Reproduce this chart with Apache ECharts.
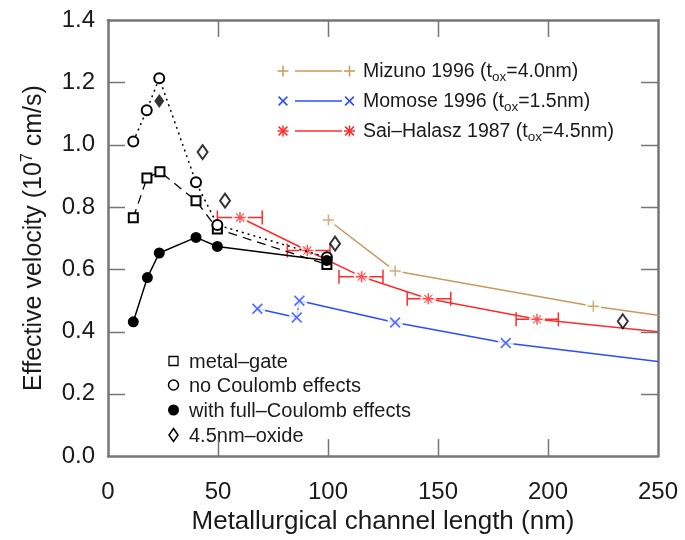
<!DOCTYPE html>
<html>
<head>
<meta charset="utf-8">
<script src="https://cdn.jsdelivr.net/npm/echarts@6/dist/echarts.min.js"></script>
<style>
  html, body { margin: 0; background: #fff; }
  #chart { width: 685px; height: 540px; }
</style>
</head>
<body>
<div id="chart"></div>
<script>
// axis ticks
const xTicks = [0, 50, 100, 150, 200, 250];
const yTicks = [0.0, 0.2, 0.4, 0.6, 0.8, 1.0, 1.2, 1.4];

// simulations (black)
const metalGate = [[11.5, 0.765], [17.7, 0.893], [23.6, 0.913], [40, 0.82], [49.7, 0.729], [99.5, 0.615]];
const noCoulomb = [[11.5, 1.01], [17.6, 1.11], [23.3, 1.213], [40, 0.879], [49.7, 0.742], [99.5, 0.638]];
const fullCoulomb = [[11.5, 0.431], [17.9, 0.573], [23.3, 0.652], [40, 0.702], [49.7, 0.673], [99.5, 0.628]];
const oxide = [[43, 0.976], [53.2, 0.82], [103.2, 0.682], [234, 0.433]];
const oxideFull = [[23.3, 1.14]];

// measurements (coloured); *Edge = where the line leaves the frame
const mizuno = [[100.2, 0.758], [130.5, 0.594], [220.6, 0.481]];
const mizunoEdge = [250, 0.452];
const momose = [[67.9, 0.473], [85.8, 0.445], [87, 0.499], [130.5, 0.429], [180.8, 0.363]];
const momoseEdge = [250, 0.304];
const sai = [[60, 0.766], [90.6, 0.66], [115.3, 0.576], [145.6, 0.505], [195, 0.439]];
const saiLow = [49.7, 81.5, 105, 136, 185.5];
const saiHigh = [70.1, 100.9, 125, 155.8, 204.7];
const saiEdge = [250, 0.399];

const TAN = '#c89a5e', BLUE = '#2b4cff', RED = '#ff2b2b', AXIS = '#767676', INK = '#1a1a1a';
const FONT = 'Liberation Sans';

const PLUS = 'M4.3,0H5.7V4.3H10V5.7H5.7V10H4.3V5.7H0V4.3H4.3Z';
const CROSS = 'M0.5,1.5L1.5,0.5L9.5,8.5L8.5,9.5Z M8.5,0.5L9.5,1.5L1.5,9.5L0.5,8.5Z';
const STAR = 'M4.3,0H5.7V10H4.3Z M0,4.3H10V5.7H0Z M1,1.7L1.7,1L9,8.3L8.3,9Z M8.3,1L9,1.7L1.7,9L1,8.3Z';

const chart = echarts.init(document.getElementById('chart'));

function measured(name, pts, edge, color, path, size) {
  return [
    { type: 'line', name: name, data: pts.concat([edge]), showSymbol: false, z: 2,
      lineStyle: { color: color, width: 1.5 } },
    { type: 'scatter', data: pts, symbol: 'circle', symbolSize: 16, z: 4, silent: true,
      itemStyle: { color: '#fff' } },
    { type: 'scatter', data: pts, symbol: 'path://' + path, symbolSize: size, z: 5,
      itemStyle: { color: color } }
  ];
}

// legend markers drawn from strokes
function legendMark(kind, cx, cy, r, color) {
  const st = { stroke: color, lineWidth: 1.5 };
  const d = r * 0.8;
  const plus = [[-r, 0, r, 0], [0, -r, 0, r]];
  const cross = [[-d, -d, d, d], [-d, d, d, -d]];
  const segs = kind === 'plus' ? plus : kind === 'cross' ? cross : plus.concat(cross);
  return { type: 'group', children: segs.map(function (s) {
    return { type: 'line', shape: { x1: cx + s[0], y1: cy + s[1], x2: cx + s[2], y2: cy + s[3] }, style: st };
  }) };
}

const topLegend = [
  { y: 71, color: TAN, kind: 'plus', label: ['Mizuno 1996 (t', 'ox', '=4.0nm)'] },
  { y: 101, color: BLUE, kind: 'cross', label: ['Momose 1996 (t', 'ox', '=1.5nm)'] },
  { y: 131, color: RED, kind: 'star', label: ['Sai\u2013Halasz 1987 (t', 'ox', '=4.5nm)'] }
];

const graphics = [];
topLegend.forEach(function (e) {
  graphics.push({ type: 'line', shape: { x1: 295, y1: e.y, x2: 342, y2: e.y }, style: { stroke: e.color, lineWidth: 1.5 } });
  graphics.push(legendMark(e.kind, 283, e.y, 5.5, e.color));
  graphics.push(legendMark(e.kind, 349.5, e.y, 5.5, e.color));
  graphics.push({ type: 'text', x: 363, y: e.y + 1, style: {
    text: '{a|' + e.label[0] + '}{s|' + e.label[1] + '}{a|' + e.label[2] + '}',
    verticalAlign: 'middle', font: '19.5px ' + FONT, fill: INK,
    rich: { a: { fontSize: 19.5, fontFamily: FONT, fill: INK }, s: { fontSize: 13.5, fontFamily: FONT, fill: INK, padding: [10, 0, 0, 0] } }
  } });
});

const bottomLegend = [
  { y: 361, label: 'metal\u2013gate' },
  { y: 385, label: 'no Coulomb effects' },
  { y: 410, label: 'with full\u2013Coulomb effects' },
  { y: 435, label: '4.5nm\u2013oxide' }
];
graphics.push({ type: 'rect', shape: { x: 169, y: 356.5, width: 9, height: 9 }, style: { fill: '#fff', stroke: '#000', lineWidth: 1.3 } });
graphics.push({ type: 'circle', shape: { cx: 173.5, cy: 385, r: 5 }, style: { fill: '#fff', stroke: '#000', lineWidth: 1.5 } });
graphics.push({ type: 'circle', shape: { cx: 173.5, cy: 410, r: 5.5 }, style: { fill: '#000' } });
graphics.push({ type: 'polygon', shape: { points: [[173.5, 428.5], [178, 435], [173.5, 441.5], [169, 435]] }, style: { fill: '#fff', stroke: '#000', lineWidth: 1.5 } });
bottomLegend.forEach(function (e) {
  graphics.push({ type: 'text', x: 189, y: e.y + 1, style: { text: e.label, verticalAlign: 'middle', font: '20px ' + FONT, fill: INK } });
});

function axisStyle() {
  return {
    type: 'value',
    axisLine: { show: true, onZero: false, lineStyle: { color: AXIS, width: 2.5 } },
    axisTick: { show: false },
    splitLine: { show: false }
  };
}

chart.setOption({
  animation: false,
  backgroundColor: '#fff',
  textStyle: { fontFamily: FONT },
  grid: { left: 108, right: 27, top: 20, bottom: 77 },
  xAxis: [
    Object.assign(axisStyle(), {
      position: 'bottom', min: xTicks[0], max: xTicks[xTicks.length - 1], interval: xTicks[1] - xTicks[0],
      axisLabel: { fontSize: 24, color: INK, margin: 24, fontFamily: FONT },
      name: 'Metallurgical channel length (nm)', nameLocation: 'middle', nameGap: 46,
      nameTextStyle: { fontSize: 26, color: INK, fontFamily: FONT }
    }),
    Object.assign(axisStyle(), {
      position: 'top', min: xTicks[0], max: xTicks[xTicks.length - 1], interval: xTicks[1] - xTicks[0],
      axisLabel: { show: false }
    })
  ],
  yAxis: [
    Object.assign(axisStyle(), {
      position: 'left', min: yTicks[0], max: yTicks[yTicks.length - 1], interval: yTicks[1] - yTicks[0],
      axisLabel: { fontSize: 24, color: INK, margin: 13, fontFamily: FONT, formatter: function (v) { return v.toFixed(1); } },
      name: '{a|Effective velocity (10}{p|7}{a| cm/s)}', nameLocation: 'middle', nameGap: 60,
      nameTextStyle: { color: INK, rich: {
        a: { fontSize: 25, fontFamily: FONT, color: INK },
        p: { fontSize: 16, fontFamily: FONT, color: INK, padding: [0, 0, 12, 0] }
      } }
    }),
    Object.assign(axisStyle(), {
      position: 'right', min: yTicks[0], max: yTicks[yTicks.length - 1], interval: yTicks[1] - yTicks[0],
      axisLabel: { show: false }
    })
  ],
  series: [].concat(
    measured('Mizuno 1996', mizuno, mizunoEdge, TAN, PLUS, 11),
    measured('Momose 1996', momose, momoseEdge, BLUE, CROSS, 11),
    measured('Sai-Halasz 1987', sai, saiEdge, RED, STAR, 11),
    [{
      type: 'custom', z: 3,
      data: sai.map(function (p, i) { return [saiLow[i], saiHigh[i], p[1]]; }),
      encode: { x: [0, 1], y: 2 },
      renderItem: function (params, api) {
        const a = api.coord([api.value(0), api.value(2)]);
        const b = api.coord([api.value(1), api.value(2)]);
        const st = { stroke: RED, lineWidth: 1.5 };
        return { type: 'group', children: [
          { type: 'line', shape: { x1: a[0], y1: a[1], x2: b[0], y2: b[1] }, style: st },
          { type: 'line', shape: { x1: a[0], y1: a[1] - 7, x2: a[0], y2: a[1] + 7 }, style: st },
          { type: 'line', shape: { x1: b[0], y1: b[1] - 7, x2: b[0], y2: b[1] + 7 }, style: st }
        ] };
      }
    },
    { type: 'line', name: 'metal-gate', data: metalGate, z: 6, symbol: 'emptyRect', symbolSize: 9,
      lineStyle: { color: '#000', width: 1.3, type: [9, 6] }, itemStyle: { color: '#000', borderWidth: 1.3 } },
    { type: 'line', name: 'no Coulomb effects', data: noCoulomb, z: 6, symbol: 'emptyCircle', symbolSize: 10,
      lineStyle: { color: '#000', width: 1.5, type: [2, 4] }, itemStyle: { color: '#000', borderWidth: 1.5 } },
    { type: 'line', name: 'with full-Coulomb effects', data: fullCoulomb, z: 6, symbol: 'circle', symbolSize: 11,
      lineStyle: { color: '#000', width: 1.5 }, itemStyle: { color: '#000' } },
    { type: 'scatter', name: '4.5nm-oxide', data: oxide, z: 7, symbol: 'emptyDiamond', symbolSize: [10, 14],
      itemStyle: { color: '#000', borderWidth: 1.5 } },
    { type: 'scatter', name: '4.5nm-oxide full', data: oxideFull, z: 7, symbol: 'diamond', symbolSize: [10, 14],
      itemStyle: { color: '#000' } }]
  )
});

// inward ticks on all four sides, placed through the axes' own scales
const TICK = 17;
const frameL = chart.convertToPixel({ xAxisIndex: 0 }, xTicks[0]);
const frameR = chart.convertToPixel({ xAxisIndex: 0 }, xTicks[xTicks.length - 1]);
const frameB = chart.convertToPixel({ yAxisIndex: 0 }, yTicks[0]);
const frameT = chart.convertToPixel({ yAxisIndex: 0 }, yTicks[yTicks.length - 1]);
const tickStyle = { stroke: AXIS, lineWidth: 1.5 };
xTicks.slice(1, -1).forEach(function (v) {
  const x = Math.round(chart.convertToPixel({ xAxisIndex: 0 }, v)) + 0.5;
  graphics.push({ type: 'line', z: 10, shape: { x1: x, y1: frameB, x2: x, y2: frameB - TICK }, style: tickStyle });
  graphics.push({ type: 'line', z: 10, shape: { x1: x, y1: frameT, x2: x, y2: frameT + TICK }, style: tickStyle });
});
yTicks.slice(1, -1).forEach(function (v) {
  const y = Math.round(chart.convertToPixel({ yAxisIndex: 0 }, v)) + 0.5;
  graphics.push({ type: 'line', z: 10, shape: { x1: frameL, y1: y, x2: frameL + TICK, y2: y }, style: tickStyle });
  graphics.push({ type: 'line', z: 10, shape: { x1: frameR, y1: y, x2: frameR - TICK, y2: y }, style: tickStyle });
});
chart.setOption({ graphic: graphics });
</script>
</body>
</html>
